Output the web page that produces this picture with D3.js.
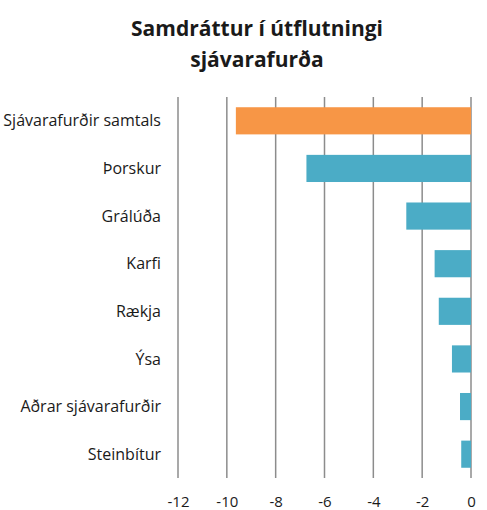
<!DOCTYPE html>
<html>
<head>
<meta charset="utf-8">
<script src="https://cdn.jsdelivr.net/npm/d3@7"></script>
<style>
	body { margin: 0; background: #fff; }
	text { font-family: "Open Sans", "Liberation Sans", sans-serif; fill: #1a1a1a; }
</style>
</head>
<body>
<script>
	var categories = ["Sjávarafurðir samtals", "Þorskur", "Grálúða", "Karfi", "Rækja", "Ýsa", "Aðrar sjávarafurðir", "Steinbítur"];
	var values = [-9.63, -6.74, -2.65, -1.49, -1.32, -0.78, -0.45, -0.40];
	var colors = ["#F79646", "#4BACC6", "#4BACC6", "#4BACC6", "#4BACC6", "#4BACC6", "#4BACC6", "#4BACC6"];
	var ticks = [-12, -10, -8, -6, -4, -2, 0];
	var titleLines = ["Samdráttur í útflutningi", "sjávarafurða"];

	var width = 487, height = 510;
	var plotLeft = 178, plotRight = 471, plotTop = 97, plotBottom = 478;

	var svg = d3.select("body").append("svg")
		.attr("width", width)
		.attr("height", height);

	var x = d3.scaleLinear().domain([-12, 0]).range([plotLeft, plotRight]);
	var y = d3.scaleBand().domain(categories).range([plotTop, plotBottom]).paddingInner(0.43).paddingOuter(0.215);

	// title
	svg.selectAll("text.title")
		.data(titleLines)
		.enter()
		.append("text")
		.attr("class", "title")
		.attr("x", 257)
		.attr("y", function(d, i) { return 36 + i * 31; })
		.attr("text-anchor", "middle")
		.style("font-size", "21px")
		.style("font-weight", "bold")
		.text(function(d) { return d; });

	// gridlines
	svg.selectAll("line.grid")
		.data(ticks)
		.enter()
		.append("line")
		.attr("class", "grid")
		.attr("x1", function(d) { return x(d); })
		.attr("x2", function(d) { return x(d); })
		.attr("y1", plotTop)
		.attr("y2", plotBottom)
		.attr("stroke", "#8c8c8c")
		.attr("stroke-width", 1.5);

	// bars
	svg.selectAll("rect")
		.data(values)
		.enter()
		.append("rect")
		.attr("x", function(d) { return x(d); })
		.attr("y", function(d, i) { return y(categories[i]); })
		.attr("width", function(d) { return x(0) - x(d); })
		.attr("height", y.bandwidth())
		.attr("fill", function(d, i) { return colors[i]; });

	// category labels
	svg.selectAll("text.cat")
		.data(categories)
		.enter()
		.append("text")
		.attr("class", "cat")
		.attr("x", 161)
		.attr("y", function(d) { return y(d) + y.bandwidth() / 2; })
		.attr("dy", "0.35em")
		.attr("text-anchor", "end")
		.style("font-size", "16px")
		.text(function(d) { return d; });

	// x axis labels
	var axis = d3.axisBottom(x).tickValues(ticks).tickSize(0).tickPadding(0)
		.tickFormat(function(d) { return String(d); });
	var g = svg.append("g")
		.attr("transform", "translate(0," + (plotBottom + 18) + ")")
		.call(axis);
	g.select(".domain").remove();
	g.selectAll("text")
		.style("font-size", "15px")
		.style("font-family", "'Open Sans', 'Liberation Sans', sans-serif")
		.attr("fill", "#1a1a1a");
</script>
</body>
</html>
